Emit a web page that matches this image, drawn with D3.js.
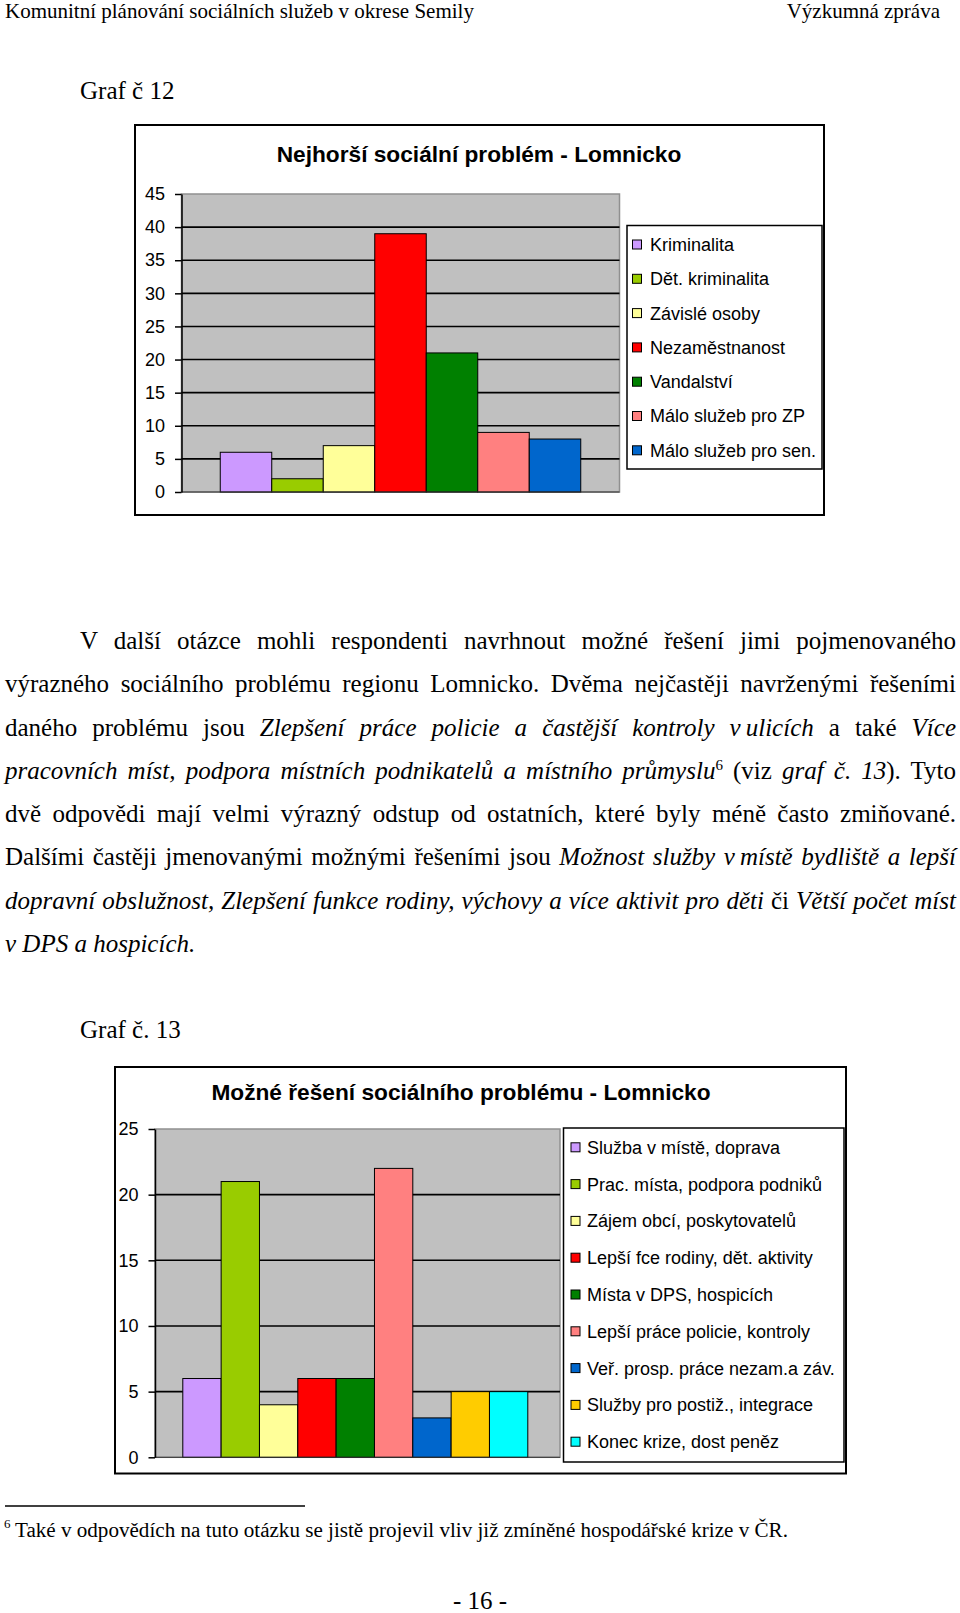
<!DOCTYPE html>
<html>
<head>
<meta charset="utf-8">
<script src="https://cdn.jsdelivr.net/npm/d3@7/dist/d3.min.js"></script>
<style>
  body { margin: 0; background: #fff; }
  #page { position: relative; width: 960px; height: 1613px; overflow: hidden; background: #fff; }
  #page svg { position: absolute; left: 0; top: 0; }
  .para {
    position: absolute; left: 5px; width: 951px;
    font-family: "Liberation Serif", "Times New Roman", serif;
    font-size: 25px; line-height: 43.3px; color: #000;
  }
  .para div { text-align: justify; text-align-last: justify; }
  .para div.last { text-align-last: left; }
  .para sup { font-size: 15px; line-height: 0; vertical-align: 9px; }
</style>
</head>
<body>
<div id="page"></div>
<script>
// Graf 12 - nejhorsi socialni problem
const problemCategories = ["Kriminalita", "Dět. kriminalita", "Závislé osoby", "Nezaměstnanost",
  "Vandalství", "Málo služeb pro ZP", "Málo služeb pro sen."];
const problemValues = [6, 2, 7, 39, 21, 9, 8];
const problemColors = ["#cc99ff", "#99cc00", "#ffff99", "#ff0000", "#008000", "#ff8080", "#0066cc"];
const problemTicks = [0, 5, 10, 15, 20, 25, 30, 35, 40, 45];

// Graf 13 - mozne reseni
const solutionCategories = ["Služba v místě, doprava", "Prac. místa, podpora podniků",
  "Zájem obcí, poskytovatelů", "Lepší fce rodiny, dět. aktivity", "Místa v DPS, hospicích",
  "Lepší práce policie, kontroly", "Veř. prosp. práce nezam.a záv.",
  "Služby pro postiž., integrace", "Konec krize, dost peněz"];
const solutionValues = [6, 21, 4, 6, 6, 22, 3, 5, 5];
const solutionColors = ["#cc99ff", "#99cc00", "#ffff99", "#ff0000", "#008000", "#ff8080",
  "#0066cc", "#ffcc00", "#00ffff"];
const solutionTicks = [0, 5, 10, 15, 20, 25];

// text of the page
const paragraphLines = [
  "V další otázce mohli respondenti navrhnout možné řešení jimi pojmenovaného",
  "výrazného sociálního problému regionu Lomnicko. Dvěma nejčastěji navrženými řešeními",
  "daného problému jsou <i>Zlepšení práce policie a častější kontroly v&#8239;ulicích</i> a také <i>Více</i>",
  "<i>pracovních míst, podpora místních podnikatelů a místního průmyslu</i><sup>6</sup> (viz <i>graf č. 13</i>). Tyto",
  "dvě odpovědi mají velmi výrazný odstup od ostatních, které byly méně často zmiňované.",
  "Dalšími častěji jmenovanými možnými řešeními jsou <i>Možnost služby v&#8239;místě bydliště a lepší</i>",
  "<i>dopravní obslužnost, Zlepšení funkce rodiny, výchovy a více aktivit pro děti</i> či <i>Větší počet míst</i>",
  "<i>v DPS a hospicích.</i>"
];

const SERIF = '"Liberation Serif", "Times New Roman", serif';
const SANS = '"Liberation Sans", Arial, sans-serif';

const page = d3.select("#page");
const svg = page.append("svg").attr("width", 960).attr("height", 1613);

// header
svg.append("text").attr("x", 5).attr("y", 17.5)
  .style("font-family", SERIF).style("font-size", "21px")
  .text("Komunitní plánování sociálních služeb v okrese Semily");
svg.append("text").attr("x", 940).attr("y", 17.5).attr("text-anchor", "end")
  .style("font-family", SERIF).style("font-size", "21px")
  .text("Výzkumná zpráva");

svg.append("text").attr("x", 80).attr("y", 99)
  .style("font-family", SERIF).style("font-size", "25px").text("Graf č 12");
svg.append("text").attr("x", 80).attr("y", 1038)
  .style("font-family", SERIF).style("font-size", "25px").text("Graf č. 13");

/**
 * Draw one Excel-like column chart with a legend on the right
 */
function drawChart(o) {
  const g = svg.append("g");

  g.append("rect")
    .attr("x", o.box.x).attr("y", o.box.y).attr("width", o.box.w).attr("height", o.box.h)
    .attr("fill", "#fff").attr("stroke", "#000").attr("stroke-width", 2);

  g.append("text").attr("x", o.titleX).attr("y", o.titleY).attr("text-anchor", "middle")
    .style("font-family", SANS).style("font-size", "22.7px").style("font-weight", "bold")
    .text(o.title);

  const y = d3.scaleLinear().domain([0, d3.max(o.ticks)]).range([o.plot.bottom, o.plot.top]);
  const barsCenter = (o.plot.left + o.plot.right) / 2 + o.barShift;
  const x = d3.scaleBand().domain(o.categories)
    .range([barsCenter - o.groupWidth / 2, barsCenter + o.groupWidth / 2]);

  g.append("rect")
    .attr("x", o.plot.left).attr("y", o.plot.top)
    .attr("width", o.plot.right - o.plot.left).attr("height", o.plot.bottom - o.plot.top)
    .attr("fill", "#c0c0c0").attr("stroke", "#909090").attr("stroke-width", 1.5);

  // gridlines
  g.selectAll(".grid").data(o.ticks.filter(t => t > 0 && t < d3.max(o.ticks)))
    .join("line")
    .attr("x1", o.plot.left).attr("x2", o.plot.right)
    .attr("y1", d => y(d)).attr("y2", d => y(d))
    .attr("stroke", "#000").attr("stroke-width", 1.6);

  // bars
  g.selectAll(".bar").data(o.values)
    .join("rect")
    .attr("x", (d, i) => x(o.categories[i]))
    .attr("y", d => y(d))
    .attr("width", x.bandwidth())
    .attr("height", d => y(0) - y(d))
    .attr("fill", (d, i) => o.colors[i])
    .attr("stroke", "#000").attr("stroke-width", 1);

  // x axis line
  g.append("line")
    .attr("x1", o.plot.left).attr("x2", o.plot.right)
    .attr("y1", y(0)).attr("y2", y(0))
    .attr("stroke", "#333").attr("stroke-width", 1);

  const axis = g.append("g").attr("transform", `translate(${o.plot.left},0)`)
    .call(d3.axisLeft(y).tickValues(o.ticks).tickSizeInner(6.5).tickSizeOuter(0).tickPadding(10));
  axis.selectAll("path, line").attr("stroke", "#000").attr("stroke-width", 1.5);
  axis.selectAll("text").style("font-family", SANS).style("font-size", "18px").attr("fill", "#000");

  // legend
  const lg = g.append("g");
  lg.append("rect")
    .attr("x", o.legend.x).attr("y", o.legend.y).attr("width", o.legend.w).attr("height", o.legend.h)
    .attr("fill", "#fff").attr("stroke", "#000").attr("stroke-width", 1.5);
  const items = lg.selectAll(".item").data(o.categories).join("g")
    .attr("transform", (d, i) => `translate(${o.legend.x}, ${o.legend.first + i * o.legend.step})`);
  items.append("rect")
    .attr("x", o.legend.sq).attr("y", -4.5).attr("width", 9).attr("height", 9)
    .attr("fill", (d, i) => o.colors[i]).attr("stroke", "#000").attr("stroke-width", 1);
  items.append("text")
    .attr("x", o.legend.tx).attr("y", 0).attr("dy", "0.36em")
    .style("font-family", SANS).style("font-size", "18px")
    .text(d => d);
}

drawChart({
  title: "Nejhorší sociální problém - Lomnicko",
  categories: problemCategories, values: problemValues, colors: problemColors, ticks: problemTicks,
  box: { x: 135, y: 125, w: 689, h: 390 },
  titleX: 479, titleY: 162,
  plot: { left: 181.5, right: 619.5, top: 194, bottom: 492 },
  groupWidth: 360.5, barShift: 0,
  legend: { x: 627, y: 225.5, w: 195, h: 243.5, first: 244.5, step: 34.3, sq: 5.5, tx: 23 }
});

drawChart({
  title: "Možné řešení sociálního problému - Lomnicko",
  categories: solutionCategories, values: solutionValues, colors: solutionColors, ticks: solutionTicks,
  box: { x: 115, y: 1067, w: 731, h: 406.5 },
  titleX: 461, titleY: 1100,
  plot: { left: 155, right: 560, top: 1129, bottom: 1457.3 },
  groupWidth: 345, barShift: -2.2,
  legend: { x: 563.5, y: 1128, w: 280.5, h: 334, first: 1147.3, step: 36.8, sq: 7.5, tx: 23.5 }
});

// footnote
svg.append("line").attr("x1", 5).attr("x2", 305).attr("y1", 1506).attr("y2", 1506)
  .attr("stroke", "#000").attr("stroke-width", 1.3);
svg.append("text").attr("x", 4).attr("y", 1527.5)
  .style("font-family", SERIF).style("font-size", "13px").text("6");
svg.append("text").attr("x", 15).attr("y", 1536.7)
  .style("font-family", SERIF).style("font-size", "21.1px")
  .text("Také v odpovědích na tuto otázku se jistě projevil vliv již zmíněné hospodářské krize v ČR.");

svg.append("text").attr("x", 480).attr("y", 1609).attr("text-anchor", "middle")
  .style("font-family", SERIF).style("font-size", "25px").text("- 16 -");

// justified paragraph
page.append("div").attr("class", "para").style("top", "619px")
  .selectAll("div").data(paragraphLines).join("div")
  .attr("class", (d, i) => i === paragraphLines.length - 1 ? "last" : null)
  .style("padding-left", (d, i) => i === 0 ? "75px" : null)
  .html(d => d);
</script>
</body>
</html>
